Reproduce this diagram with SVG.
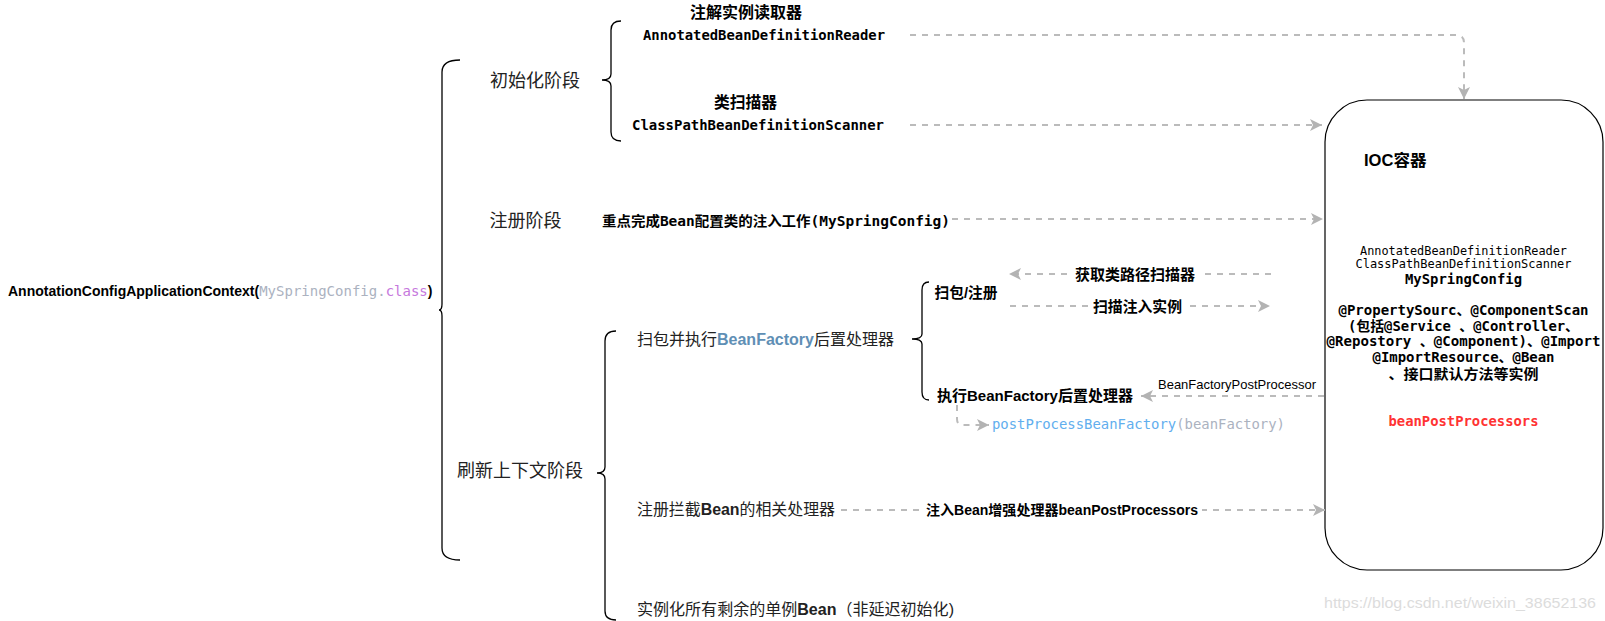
<svg xmlns="http://www.w3.org/2000/svg" width="1605" height="621" viewBox="0 0 1605 621">
<style>
.brace{fill:none;stroke:#000;stroke-width:1.3}
.dash{fill:none;stroke:#bbbbbb;stroke-width:2;stroke-dasharray:6 6}
.cjk{font-family:"Liberation Sans","Noto Sans CJK SC",sans-serif}
.mono{font-family:"DejaVu Sans Mono","Noto Sans CJK SC",monospace}
.b{font-weight:bold}
.stage{font-size:18px;fill:#222}
.lvl2{font-size:16px;fill:#222}
.lbl{font-size:15px;fill:#000;font-weight:bold}
</style>
<defs>
<marker id="arr" markerUnits="userSpaceOnUse" markerWidth="12" markerHeight="12" refX="10" refY="5" orient="auto" viewBox="0 0 10 10">
<path d="M0,0 L10,5 L0,10 L2.5,5 Z" fill="#b3b3b3"/>
</marker>
</defs>
<rect width="1605" height="621" fill="#fff"/>

<g id="root">
<text x="8" y="296" class="cjk b" font-size="14"><tspan>AnnotationConfigApplicationContext(</tspan><tspan class="mono" font-weight="normal" fill="#abb2bf">MySpringConfig.</tspan><tspan class="mono" font-weight="normal" fill="#c678dd">class</tspan><tspan>)</tspan></text>
<path class="brace" d="M460,60 Q442,60 442,72 L442,304 Q442,310 439,310 Q442,310 442,316 L442,548 Q442,560 460,560"/>
</g>

<g id="init">
<text x="490" y="87" class="cjk stage" textLength="90" lengthAdjust="spacingAndGlyphs">初始化阶段</text>
<path class="brace" d="M621,21 Q611,21 611,30 L611,74 Q611,80 602,80 Q611,80 611,86 L611,132 Q611,141 621,141"/>
</g>

<g id="reader">
<text x="690" y="18" class="cjk b" font-size="16" textLength="112" lengthAdjust="spacingAndGlyphs">注解实例读取器</text>
<text x="643" y="40" class="mono b" font-size="14" textLength="242" lengthAdjust="spacingAndGlyphs">AnnotatedBeanDefinitionReader</text>
</g>

<g id="scanner">
<text x="714" y="108" class="cjk b" font-size="16" textLength="63" lengthAdjust="spacingAndGlyphs">类扫描器</text>
<text x="632" y="130" class="mono b" font-size="14" textLength="252" lengthAdjust="spacingAndGlyphs">ClassPathBeanDefinitionScanner</text>
</g>

<g id="register">
<text x="489.5" y="227" class="cjk stage" textLength="72" lengthAdjust="spacingAndGlyphs">注册阶段</text>
<text x="602" y="226" class="mono b" font-size="14" textLength="348" lengthAdjust="spacingAndGlyphs">重点完成Bean配置类的注入工作(MySpringConfig)</text>
</g>

<g id="refresh">
<text x="457" y="477" class="cjk stage" textLength="126" lengthAdjust="spacingAndGlyphs">刷新上下文阶段</text>
<path class="brace" d="M616,331 Q605,331 605,341 L605,467 Q605,473 597,473 Q605,473 605,479 L605,611 Q605,620 616,620"/>
</g>

<g id="scanpkg">
<text x="637" y="345" class="cjk lvl2" textLength="257" lengthAdjust="spacingAndGlyphs">扫包并执行<tspan fill="#5f8fb5" font-weight="bold">BeanFactory</tspan>后置处理器</text>
<path class="brace" d="M929,282 Q922,282 922,290 L922,334 Q922,339 912,339 Q922,339 922,344 L922,392 Q922,400 929,400"/>
</g>

<g id="scanreg">
<text x="934.5" y="297.5" class="cjk lbl" textLength="63" lengthAdjust="spacingAndGlyphs">扫包/注册</text>
</g>

<g id="execbf">
<text x="937" y="401" class="cjk lbl" textLength="196" lengthAdjust="spacingAndGlyphs">执行BeanFactory后置处理器</text>
</g>

<g id="ppbf">
<text x="992" y="429" class="mono" font-size="14" textLength="293" lengthAdjust="spacingAndGlyphs"><tspan fill="#61aeee">postProcessBeanFactory</tspan><tspan fill="#abb2bf">(beanFactory)</tspan></text>
</g>

<g id="bpp">
<text x="637" y="515" class="cjk lvl2" textLength="198" lengthAdjust="spacingAndGlyphs">注册拦截<tspan font-weight="bold">Bean</tspan>的相关处理器</text>
</g>

<g id="instantiate">
<text x="637" y="615" class="cjk lvl2" textLength="317" lengthAdjust="spacingAndGlyphs">实例化所有剩余的单例<tspan font-weight="bold">Bean</tspan>（非延迟初始化)</text>
</g>

<g id="ioc">
<rect x="1325" y="100" width="278" height="470" rx="42" ry="42" fill="#fff" stroke="#000" stroke-width="1.2"/>
<text x="1364" y="166" class="cjk b" font-size="16" textLength="62.5" lengthAdjust="spacingAndGlyphs">IOC容器</text>
<g class="mono" text-anchor="middle" fill="#000">
<text x="1463.5" y="254.5" font-size="12" textLength="207" lengthAdjust="spacingAndGlyphs">AnnotatedBeanDefinitionReader</text>
<text x="1463.5" y="268" font-size="12" textLength="216" lengthAdjust="spacingAndGlyphs">ClassPathBeanDefinitionScanner</text>
<text x="1463.5" y="284" font-size="14" font-weight="bold" textLength="117" lengthAdjust="spacingAndGlyphs">MySpringConfig</text>
<text x="1463.5" y="314.5" font-size="14" font-weight="bold" textLength="250" lengthAdjust="spacingAndGlyphs">@PropertySourc、@ComponentScan</text>
<text x="1463.5" y="330.5" font-size="14" font-weight="bold" textLength="231" lengthAdjust="spacingAndGlyphs">(包括@Service 、@Controller、</text>
<text x="1463.5" y="346" font-size="14" font-weight="bold" textLength="274" lengthAdjust="spacingAndGlyphs">@Repostory 、@Component)、@Import</text>
<text x="1463.5" y="362" font-size="14" font-weight="bold" textLength="182" lengthAdjust="spacingAndGlyphs">@ImportResource、@Bean</text>
<text x="1463.5" y="378.5" font-size="14" font-weight="bold" textLength="150" lengthAdjust="spacingAndGlyphs">、接口默认方法等实例</text>
<text x="1463.5" y="426" font-size="14" font-weight="bold" fill="#ff3333" textLength="150" lengthAdjust="spacingAndGlyphs">beanPostProcessors</text>
</g>
</g>

<g id="connectors">
<path class="dash" d="M910,35 H1456 Q1464,35 1464,43 V99" marker-end="url(#arr)"/>
<path class="dash" d="M910,125 H1322" marker-end="url(#arr)"/>
<path class="dash" d="M952,219 H1323" marker-end="url(#arr)"/>
<path class="dash" d="M1271,274 H1009" marker-end="url(#arr)"/>
<rect x="1070" y="264" width="130" height="20" fill="#fff"/>
<text x="1075" y="280" class="cjk lbl" textLength="120" lengthAdjust="spacingAndGlyphs">获取类路径扫描器</text>
<path class="dash" d="M1010,306 H1270" marker-end="url(#arr)"/>
<rect x="1088" y="296" width="99" height="20" fill="#fff"/>
<text x="1093" y="311.5" class="cjk lbl" textLength="89" lengthAdjust="spacingAndGlyphs">扫描注入实例</text>
<path class="dash" d="M1324,396 H1141" marker-end="url(#arr)"/>
<text x="1158" y="389" class="cjk" font-size="13" fill="#000" textLength="158" lengthAdjust="spacingAndGlyphs">BeanFactoryPostProcessor</text>
<path class="dash" d="M957,405 V419 Q957,425 963,425 H989" marker-end="url(#arr)"/>
<path class="dash" d="M841,510 H1325" marker-end="url(#arr)"/>
<rect x="922" y="500" width="280" height="20" fill="#fff"/>
<text x="926" y="515" class="cjk b" font-size="14" fill="#000" textLength="272" lengthAdjust="spacingAndGlyphs">注入Bean增强处理器beanPostProcessors</text>
</g>

<text x="1324" y="608" font-family="Liberation Sans, sans-serif" font-size="15" fill="#dcdcdc" textLength="272" lengthAdjust="spacingAndGlyphs">https://blog.csdn.net/weixin_38652136</text>
</svg>
